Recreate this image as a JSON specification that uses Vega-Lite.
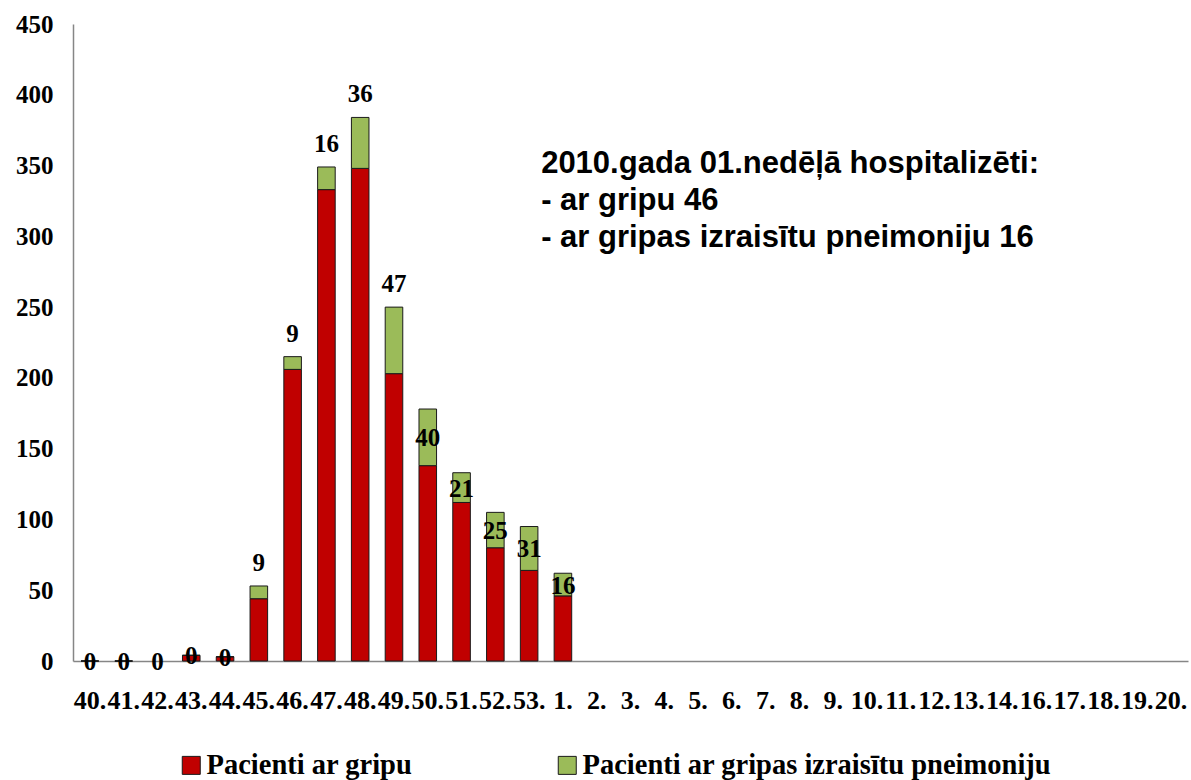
{
  "$schema": "https://vega.github.io/schema/vega-lite/v6.json",
  "width": 1115,
  "height": 637,
  "autosize": "none",
  "padding": {"left": 73, "top": 24, "right": 3, "bottom": 119},
  "background": "white",
  "config": {"view": {"stroke": null}, "font": "Liberation Serif"},
  "data": {
    "values": [
      {"week": "40.", "Pacienti ar gripu": 0, "Pacienti ar gripas izraisītu pneimoniju": 0, "label": "0"},
      {"week": "41.", "Pacienti ar gripu": 0, "Pacienti ar gripas izraisītu pneimoniju": 0, "label": "0"},
      {"week": "42.", "Pacienti ar gripu": null, "Pacienti ar gripas izraisītu pneimoniju": null, "label": "0"},
      {"week": "43.", "Pacienti ar gripu": 4, "Pacienti ar gripas izraisītu pneimoniju": 0, "label": "0"},
      {"week": "44.", "Pacienti ar gripu": 3, "Pacienti ar gripas izraisītu pneimoniju": 0, "label": "0"},
      {"week": "45.", "Pacienti ar gripu": 44, "Pacienti ar gripas izraisītu pneimoniju": 9, "label": "9"},
      {"week": "46.", "Pacienti ar gripu": 206, "Pacienti ar gripas izraisītu pneimoniju": 9, "label": "9"},
      {"week": "47.", "Pacienti ar gripu": 333, "Pacienti ar gripas izraisītu pneimoniju": 16, "label": "16"},
      {"week": "48.", "Pacienti ar gripu": 348, "Pacienti ar gripas izraisītu pneimoniju": 36, "label": "36"},
      {"week": "49.", "Pacienti ar gripu": 203, "Pacienti ar gripas izraisītu pneimoniju": 47, "label": "47"},
      {"week": "50.", "Pacienti ar gripu": 138, "Pacienti ar gripas izraisītu pneimoniju": 40, "label": "40"},
      {"week": "51.", "Pacienti ar gripu": 112, "Pacienti ar gripas izraisītu pneimoniju": 21, "label": "21"},
      {"week": "52.", "Pacienti ar gripu": 80, "Pacienti ar gripas izraisītu pneimoniju": 25, "label": "25"},
      {"week": "53.", "Pacienti ar gripu": 64, "Pacienti ar gripas izraisītu pneimoniju": 31, "label": "31"},
      {"week": "1.", "Pacienti ar gripu": 46, "Pacienti ar gripas izraisītu pneimoniju": 16, "label": "16"}
    ]
  },
  "encoding": {
    "x": {
      "field": "week",
      "type": "nominal",
      "sort": null,
      "scale": {
        "domain": ["40.", "41.", "42.", "43.", "44.", "45.", "46.", "47.", "48.", "49.", "50.", "51.", "52.", "53.", "1.", "2.", "3.", "4.", "5.", "6.", "7.", "8.", "9.", "10.", "11.", "12.", "13.", "14.", "16.", "17.", "18.", "19.", "20."],
        "paddingInner": 0.48,
        "paddingOuter": 0.24
      },
      "axis": {
        "title": null,
        "labelAngle": 0,
        "ticks": false,
        "domainColor": "#868686",
        "domainWidth": 1.5,
        "labelFont": "Liberation Serif",
        "labelFontWeight": "bold",
        "labelFontSize": 26,
        "labelColor": "black",
        "labelPadding": 26,
        "labelOverlap": false
      }
    }
  },
  "layer": [
    {
      "transform": [
        {"fold": ["Pacienti ar gripu", "Pacienti ar gripas izraisītu pneimoniju"], "as": ["series", "value"]}
      ],
      "mark": {"type": "bar", "stroke": "#1a1a1a", "strokeWidth": 1},
      "encoding": {
        "y": {
          "field": "value",
          "type": "quantitative",
          "stack": "zero",
          "scale": {"domain": [0, 450], "nice": false},
          "axis": {
            "title": null,
            "values": [0, 50, 100, 150, 200, 250, 300, 350, 400, 450],
            "ticks": false,
            "grid": false,
            "domainColor": "#868686",
            "domainWidth": 1.5,
            "labelFont": "Liberation Serif",
            "labelFontWeight": "bold",
            "labelFontSize": 25,
            "labelColor": "black",
            "labelPadding": 20
          }
        },
        "color": {
          "field": "series",
          "type": "nominal",
          "scale": {
            "domain": ["Pacienti ar gripu", "Pacienti ar gripas izraisītu pneimoniju"],
            "range": ["#C00000", "#9BBB59"]
          },
          "legend": {
            "title": null,
            "orient": "none",
            "direction": "horizontal",
            "legendX": 104,
            "legendY": 727,
            "symbolType": "square",
            "symbolSize": 324,
            "symbolStrokeColor": "#1a1a1a",
            "symbolStrokeWidth": 1,
            "symbolOpacity": 1,
            "labelFont": "Liberation Serif",
            "labelFontWeight": "bold",
            "labelFontSize": 28.5,
            "labelColor": "black",
            "labelOffset": 1,
            "labelLimit": 600,
            "columnPadding": 140
          }
        },
        "order": {"field": "series", "sort": "descending"}
      }
    },
    {
      "transform": [
        {"filter": "indexof(['45.','46.','47.','48.','49.'], datum.week) >= 0"},
        {"calculate": "datum['Pacienti ar gripu'] + datum['Pacienti ar gripas izraisītu pneimoniju']", "as": "total"}
      ],
      "mark": {"type": "text", "font": "Liberation Serif", "fontWeight": "bold", "fontSize": 25, "color": "black", "baseline": "middle", "dy": -23},
      "encoding": {
        "y": {"field": "total", "type": "quantitative"},
        "text": {"field": "label"}
      }
    },
    {
      "transform": [
        {"filter": "indexof(['45.','46.','47.','48.','49.'], datum.week) < 0"},
        {"calculate": "(datum['Pacienti ar gripu'] || 0) + (datum['Pacienti ar gripas izraisītu pneimoniju'] || 0) / 2", "as": "mid"}
      ],
      "mark": {"type": "text", "font": "Liberation Serif", "fontWeight": "bold", "fontSize": 25, "color": "black", "baseline": "middle", "dy": 1},
      "encoding": {
        "y": {"field": "mid", "type": "quantitative"},
        "text": {"field": "label"}
      }
    },
    {
      "data": {"values": [{"t": ["2010.gada 01.nedēļā hospitalizēti:", "- ar gripu 46", "- ar gripas izraisītu pneimoniju 16"]}]},
      "mark": {"type": "text", "font": "Liberation Sans", "fontWeight": "bold", "fontSize": 31, "color": "black", "align": "left", "baseline": "alphabetic", "lineHeight": 37, "dx": 12},
      "encoding": {
        "x": {"datum": "53."},
        "y": {"datum": 345},
        "text": {"field": "t"}
      }
    }
  ]
}
